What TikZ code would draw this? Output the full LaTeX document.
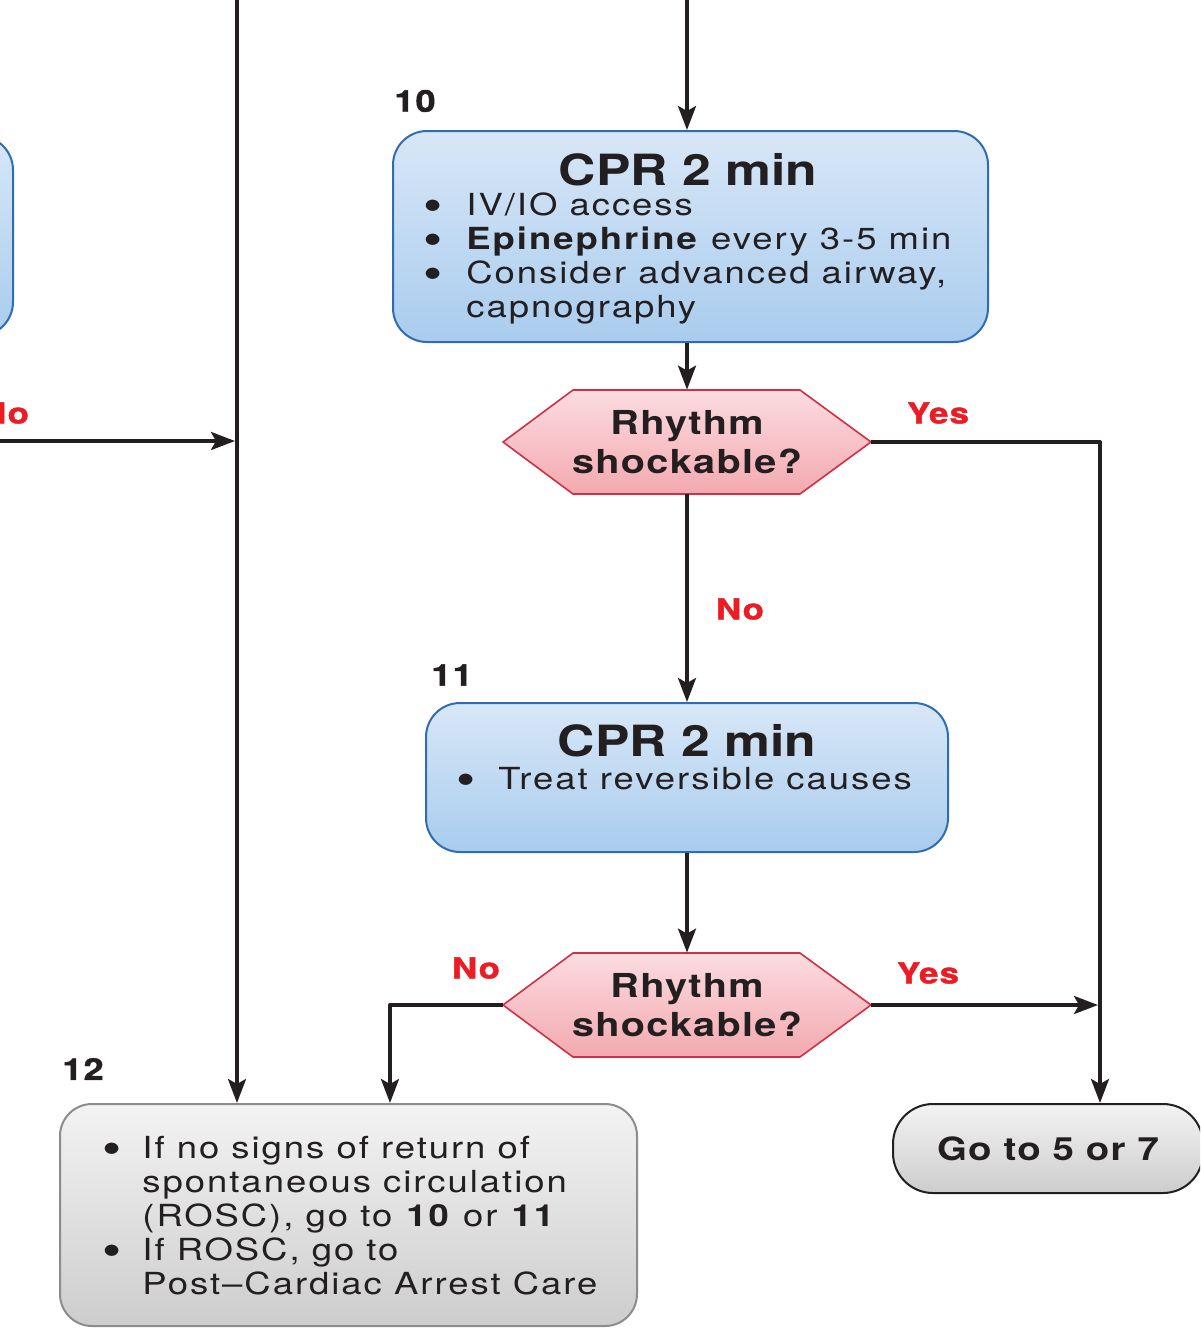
\documentclass[tikz,border=0pt]{standalone}
\usepackage{fontspec}
\setmainfont{TeX Gyre Heros}[FakeStretch=1.2]
\newfontfamily\bodyfont{TeX Gyre Heros}[FakeStretch=1.2,LetterSpace=6.5]
\newfontfamily\askfont{TeX Gyre Heros}[FakeStretch=1.2,LetterSpace=4]
\newfontface\heavyfont{texgyreheros-bold.otf}[FakeStretch=1.2,FakeBold=1.5,LetterSpace=4]
\usetikzlibrary{arrows.meta,calc}
\definecolor{bluetop}{HTML}{D8E7F7}
\definecolor{bluebot}{HTML}{A9CCEE}
\definecolor{blueline}{HTML}{2E6DB4}
\definecolor{pinktop}{HTML}{FBDCE0}
\definecolor{pinkbot}{HTML}{F3A9B0}
\definecolor{pinkline}{HTML}{D12F45}
\definecolor{graytop}{HTML}{F3F3F3}
\definecolor{graybot}{HTML}{CDCDCD}
\definecolor{grayline}{HTML}{8C8C8C}
\definecolor{answer}{HTML}{EC1C24}
\definecolor{ink}{HTML}{231F20}
\newcommand{\itm}{\raisebox{-0.4ex}{\scalebox{1.5}{\textbullet}}}

\begin{document}
\begin{tikzpicture}[x=0.5pt,y=-0.5pt,line join=round,
  flow/.style={ink,line width=1.7pt,-{Stealth[length=12pt,width=9pt,inset=2.5pt]}},
  bluebox/.style={draw=blueline,line width=1pt,rounded corners=17pt,top color=bluetop,bottom color=bluebot},
  graybox/.style={draw=grayline,line width=1pt,top color=graytop,bottom color=graybot},
  hexa/.style={draw=pinkline,line width=0.8pt,top color=pinktop,bottom color=pinkbot},
  title/.style={ink,inner sep=0pt,font=\fontsize{21.5}{24}\selectfont\bfseries},
  items/.style={ink,inner sep=0pt,anchor=base west,font=\bodyfont\fontsize{15.2}{17}\selectfont},
  question/.style={ink,align=center,inner sep=0pt,minimum width=184pt,minimum height=52pt,font=\askfont\fontsize{16.5}{19.5}\selectfont\bfseries},
  answerlbl/.style={answer,inner sep=0pt,font=\heavyfont\fontsize{14.5}{16}\selectfont},
  steplbl/.style={ink,inner sep=0pt,font=\heavyfont\fontsize{15}{16}\selectfont}]
\useasboundingbox (0,0) rectangle (1200,1328);
\clip (0,0) rectangle (1200,1328);
\coordinate (top10) at (687,0);
\coordinate (top12) at (237,0);
\coordinate (left) at (0,441);
\coordinate (yes1) at (1100,442);
\coordinate (no2) at (390,1005);
\coordinate (q1) at (687,442);
\coordinate (q2) at (687,1005);

% boxes
\node[bluebox,minimum width=298pt,minimum height=100pt] (b9) at (-285,236) {};
\node[bluebox,minimum width=297.5pt,minimum height=105.5pt] (b10) at (690.5,236.5) {};
\node[bluebox,minimum width=261pt,minimum height=74.5pt] (b11) at (687,777.5) {};
\node[graybox,rounded corners=16pt,minimum width=288.5pt,minimum height=111pt] (b12) at (348.5,1215) {};
\node[graybox,rounded corners=20pt,minimum width=155pt,minimum height=44.5pt,ink,
  font=\askfont\fontsize{16}{18}\selectfont\bfseries] (go) at (1048,1148.5) {Go to 5 or 7};
\foreach \q in {q1,q2}{\filldraw[hexa] ($(\q)+(-184,0)$) -- ($(\q)+(-114,-52)$) -- ($(\q)+(113,-52)$)
  -- ($(\q)+(184,0)$) -- ($(\q)+(113,52)$) -- ($(\q)+(-114,52)$) -- cycle;}
\node[question] (r1) at (q1) {Rhythm\\shockable?};
\node[question] (r2) at (q2) {Rhythm\\shockable?};

% texts
\node[title] (h10) at (688,170) {CPR 2 min};
\node[items] (i10) at (423,215) {\begin{tabular}[t]{@{}p{21.5pt}@{}l@{}}
  \itm & IV/IO access\\
  \itm & \textbf{Epinephrine} every 3-5 min\\
  \itm & Consider advanced airway,\\
  & capnography\end{tabular}};
\node[title] (h11) at (687,741) {CPR 2 min};
\node[items] (i11) at (456,789) {\begin{tabular}[t]{@{}p{21pt}@{}l@{}}
  \itm & Treat reversible causes\end{tabular}};
\node[items] (i12) at (102,1158) {\begin{tabular}[t]{@{}p{20pt}@{}l@{}}
  \itm & If no signs of return of\\
  & spontaneous circulation\\
  & (ROSC), go to \textbf{10} or \textbf{11}\\
  \itm & If ROSC, go to\\
  & Post–Cardiac Arrest Care\end{tabular}};
\node[steplbl] (n10) at (415,101) {10};
\node[steplbl] (n11) at (452,675) {11};
\node[steplbl] (n12) at (83,1069) {12};
\node[answerlbl] (no0) at (5,413) {No};
\node[answerlbl] (yes1l) at (938,413) {Yes};
\node[answerlbl] (no1l) at (740,609) {No};
\node[answerlbl] (no2l) at (476,968) {No};
\node[answerlbl] (yes2l) at (928,973) {Yes};

% connectors
\draw[flow] (top10) -- (top10 |- b10.north);
\draw[flow] (r1.north |- b10.south) -- (r1.north);
\draw[flow] (r1.south) -- (r1.south |- b11.north);
\draw[flow] (b11.south) -- (r2.north);
\draw[flow] (r1.east) -- (yes1) -- (yes1 |- go.north);
\draw[flow,shorten >=1pt] (r2.east) -- (r2.east -| yes1);
\draw[flow] (r2.west) -- (no2) -- (no2 |- b12.north);
\draw[flow] (top12) -- (top12 |- b12.north);
\draw[flow,shorten >=1pt] (left) -- (left -| top12);
\end{tikzpicture}
\end{document}
